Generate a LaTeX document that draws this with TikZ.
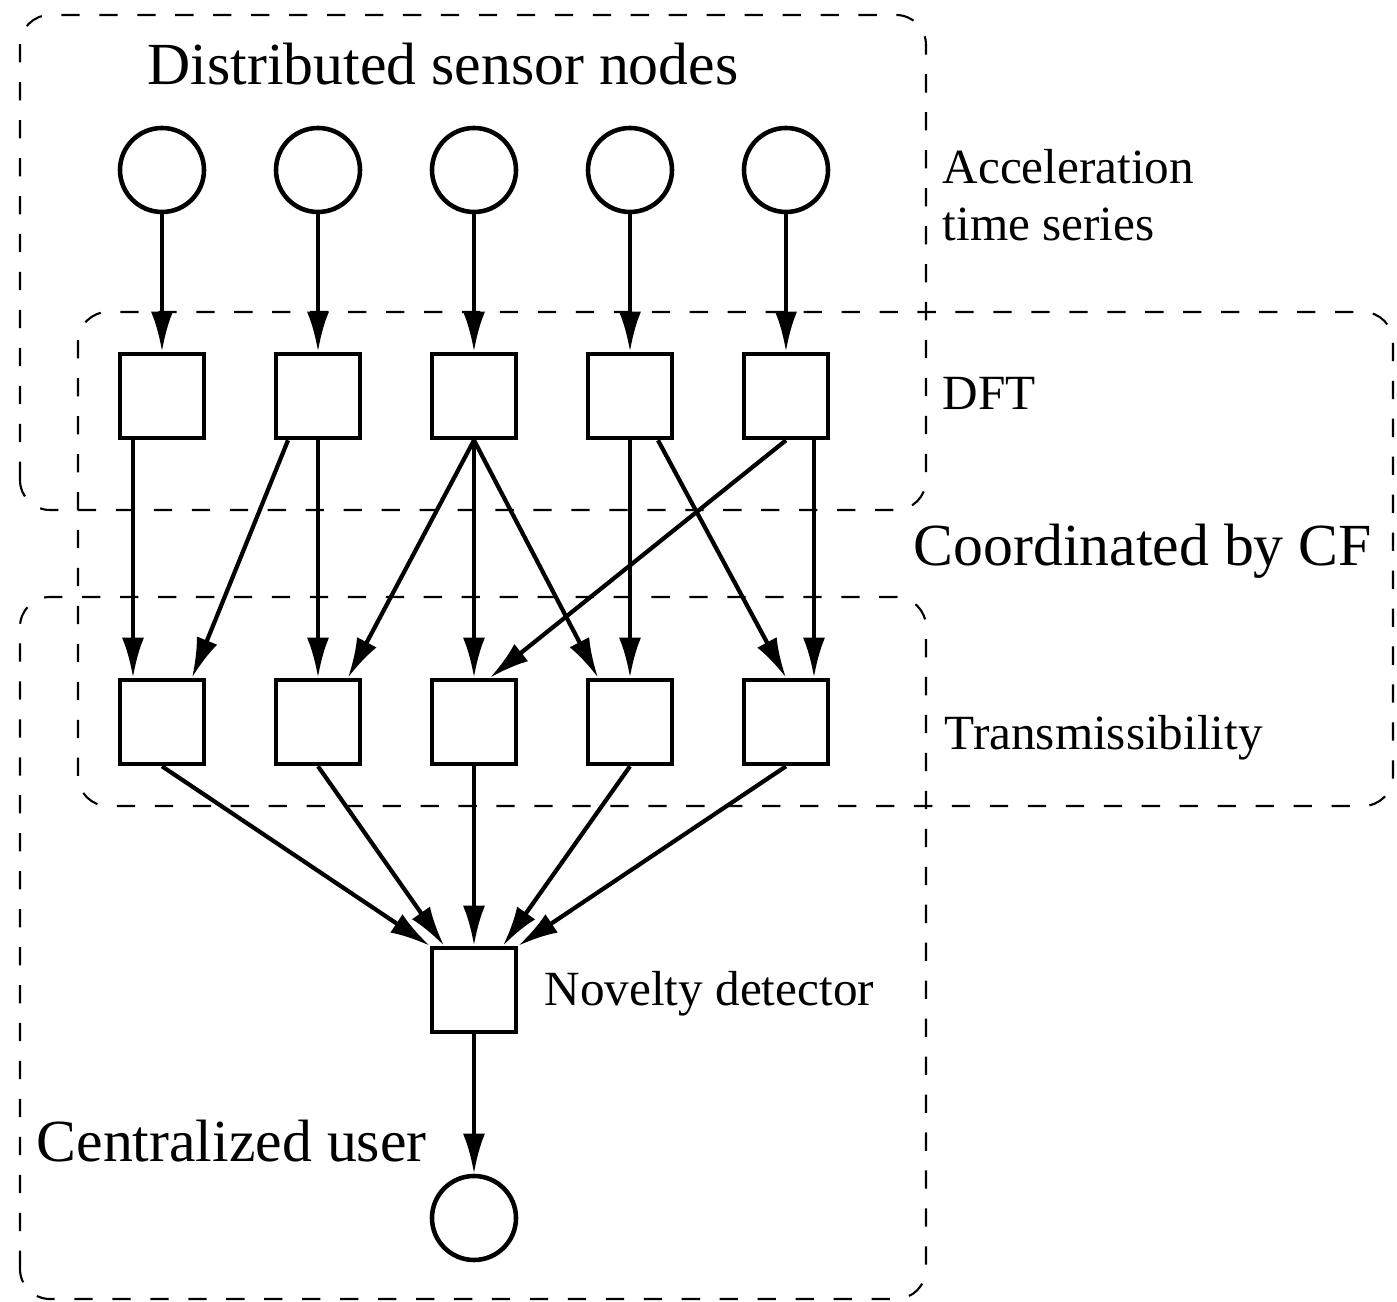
\documentclass[tikz,border=0pt]{standalone}
\usepackage{fontspec}
\setmainfont{Liberation Serif}
\usetikzlibrary{arrows.meta}

\begin{document}
\begin{tikzpicture}[x=1cm, y=1cm,
    sensor/.style={draw, circle, line width=1.3pt, minimum size=0.84cm, inner sep=0},
    proc/.style={draw, rectangle, line width=1.3pt, minimum size=0.84cm, inner sep=0},
    region/.style={line width=0.6pt, dash pattern=on 5.2pt off 5.6pt, rounded corners=0.3cm},
    link/.style={line width=1.2pt, -{Latex[length=4mm, width=2.2mm]}},
    big/.style={inner sep=0, font=\fontsize{17}{20}\selectfont},
    small/.style={inner sep=0, font=\fontsize{14}{16.2}\selectfont}]
    \useasboundingbox (0, 0) rectangle (13.97, 13.02);

    % Draw the dashed groups
    \draw[region] (0.20, 7.92) rectangle (9.26, 12.87);
    \draw[region] (0.78, 4.96) rectangle (13.93, 9.90);
    \draw[region] (0.20, 0.03) rectangle (9.26, 7.05);

    % Sensor nodes
    \node[sensor] (s1) at (1.62, 11.32) {};
    \node[sensor] (s2) at (3.18, 11.32) {};
    \node[sensor] (s3) at (4.74, 11.32) {};
    \node[sensor] (s4) at (6.30, 11.32) {};
    \node[sensor] (s5) at (7.86, 11.32) {};

    % DFT blocks
    \node[proc] (d1) at (1.62, 9.06) {};
    \node[proc] (d2) at (3.18, 9.06) {};
    \node[proc] (d3) at (4.74, 9.06) {};
    \node[proc] (d4) at (6.30, 9.06) {};
    \node[proc] (d5) at (7.86, 9.06) {};

    % Transmissibility blocks
    \node[proc] (t1) at (1.62, 5.80) {};
    \node[proc] (t2) at (3.18, 5.80) {};
    \node[proc] (t3) at (4.74, 5.80) {};
    \node[proc] (t4) at (6.30, 5.80) {};
    \node[proc] (t5) at (7.86, 5.80) {};

    % Detector and user
    \node[proc] (nd) at (4.74, 3.12) {};
    \node[sensor] (user) at (4.74, 0.84) {};

    % Time series into the DFT
    \draw[link] (s1) -- (d1);
    \draw[link] (s2) -- (d2);
    \draw[link] (s3) -- (d3);
    \draw[link] (s4) -- (d4);
    \draw[link] (s5) -- (d5);

    % Spectra paired up
    \draw[link] ([xshift=-0.29cm]d1.south) -- ([xshift=-0.29cm]t1.north);
    \draw[link] ([xshift=-0.30cm]d2.south) -- ([xshift=0.30cm]t1.north);
    \draw[link] (d2) -- (t2);
    \draw[link] (d3.south) -- ([xshift=0.30cm]t2.north);
    \draw[link] (d3) -- (t3);
    \draw[link] (d3.south) -- ([xshift=-0.32cm]t4.north);
    \draw[link] (d4) -- (t4);
    \draw[link] ([xshift=0.28cm]d4.south) -- (t5.north);
    \draw[link] (d5.south) -- ([xshift=0.16cm]t3.north);
    \draw[link] ([xshift=0.28cm]d5.south) -- ([xshift=0.28cm]t5.north);

    % Everything to the detector
    \draw[link] (t1.south) -- (nd.north west);
    \draw[link] (t2.south) -- ([xshift=-0.30cm]nd.north);
    \draw[link] (t3) -- (nd);
    \draw[link] (t4.south) -- ([xshift=0.29cm]nd.north);
    \draw[link] (t5.south) -- (nd.north east);
    \draw[link] (nd) -- (user);

    % Labels
    \node[big, anchor=base] (title) at (4.43, 12.17) {Distributed sensor nodes};
    \node[small, anchor=west, align=left] (acc) at (9.42, 11.07) {Acceleration\\time series};
    \node[small, anchor=base west] (dft) at (9.42, 8.92) {DFT};
    \node[big, anchor=base west] (cf) at (9.13, 7.36) {Coordinated by CF};
    \node[small, anchor=base west] (trans) at (9.44, 5.52) {Transmissibility};
    \node[small, anchor=base west] (nov) at (5.44, 2.96) {Novelty detector};
    \node[big, anchor=base west] (cu) at (0.36, 1.40) {Centralized user};
\end{tikzpicture}
\end{document}
